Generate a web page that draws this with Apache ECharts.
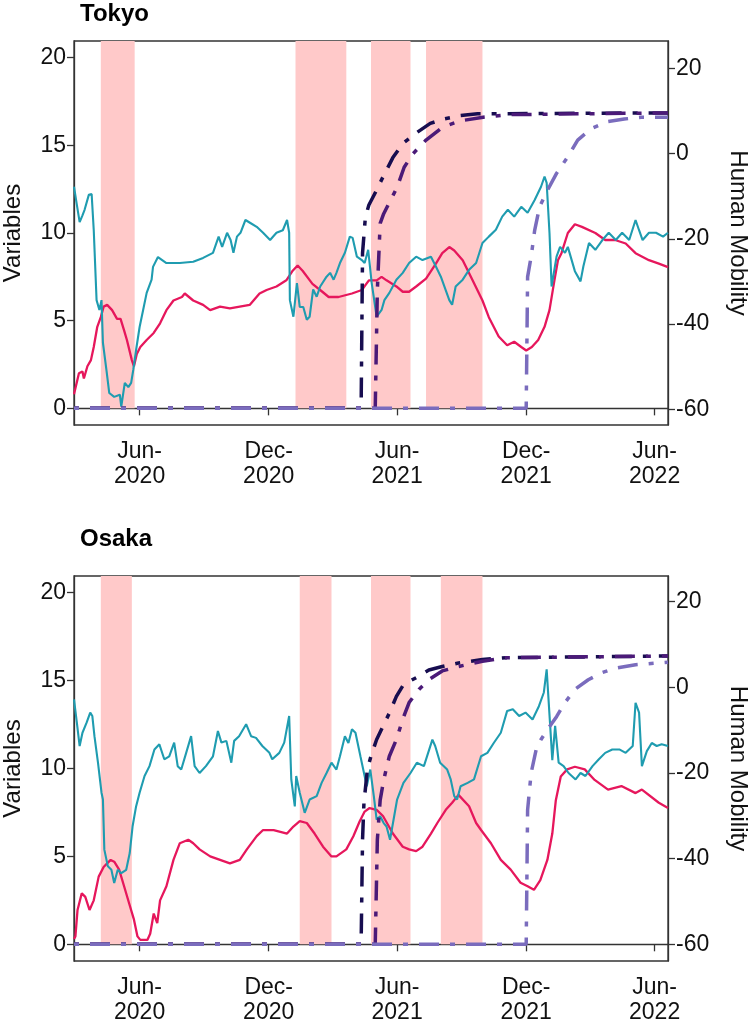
<!DOCTYPE html>
<html>
<head>
<meta charset="utf-8">
<script src="https://cdn.jsdelivr.net/npm/echarts@6/dist/echarts.min.js"></script>
<style>
  html, body { margin: 0; padding: 0; background: #fff; }
  #chart { width: 750px; height: 1021px; }
</style>
</head>
<body>
<div id="chart"></div>
<script>
// axis ticks
const xTicks = ['2020-06-01', '2020-12-01', '2021-06-01', '2021-12-01', '2022-06-01']
const leftTicks = [0, 5, 10, 15, 20]
const rightTicks = [-60, -40, -20, 0, 20]
const xStart = '2020-02-29'
const xEnd = '2022-06-20'

// states of emergency
const tokyoEmergency = [['2020-04-07', '2020-05-25'], ['2021-01-08', '2021-03-21'], ['2021-04-25', '2021-06-20'], ['2021-07-12', '2021-09-30']]
const osakaEmergency = [['2020-04-07', '2020-05-21'], ['2021-01-14', '2021-02-28'], ['2021-04-25', '2021-06-20'], ['2021-08-02', '2021-09-30']]

// Tokyo
const tokyoMobility = [
  ['2020-02-29', -7.8], ['2020-03-04', -12], ['2020-03-08', -16.1], ['2020-03-12', -14.5], ['2020-03-15', -13.2],
  ['2020-03-21', -9.7], ['2020-03-25', -9.5], ['2020-03-28', -18], ['2020-04-01', -34.4], ['2020-04-05', -36.7],
  ['2020-04-08', -34.4], ['2020-04-10', -44.4], ['2020-04-15', -50.8], ['2020-04-19', -56.2], ['2020-04-26', -57.1],
  ['2020-05-04', -56.6], ['2020-05-06', -59.4], ['2020-05-11', -53.8], ['2020-05-16', -54.8], ['2020-05-20', -53.8],
  ['2020-05-23', -50.8], ['2020-05-27', -46.1], ['2020-06-01', -40.7], ['2020-06-06', -36.7], ['2020-06-11', -32.7],
  ['2020-06-18', -29.6], ['2020-06-20', -26.6], ['2020-06-27', -24.3], ['2020-07-09', -25.7], ['2020-07-28', -25.7],
  ['2020-08-16', -25.4], ['2020-08-30', -24.5], ['2020-09-13', -23.3], ['2020-09-21', -19.5], ['2020-09-26', -21.9],
  ['2020-10-03', -18.6], ['2020-10-08', -20.3], ['2020-10-12', -23.3], ['2020-10-17', -19.5], ['2020-10-22', -18.6],
  ['2020-10-29', -15.6], ['2020-11-05', -16.3], ['2020-11-14', -17.2], ['2020-11-23', -18.6], ['2020-12-03', -20.3],
  ['2020-12-12', -18.6], ['2020-12-21', -18], ['2020-12-27', -15.6], ['2020-12-30', -18.6], ['2020-12-31', -34.4],
  ['2021-01-05', -38.3], ['2021-01-10', -30.4], ['2021-01-14', -36], ['2021-01-19', -36], ['2021-01-24', -39],
  ['2021-01-28', -38.3], ['2021-02-02', -31.9], ['2021-02-07', -33.6], ['2021-02-12', -31.2], ['2021-02-21', -28.9],
  ['2021-02-26', -28], ['2021-03-03', -29.6], ['2021-03-07', -28], ['2021-03-12', -25.7], ['2021-03-19', -23.3],
  ['2021-03-26', -19.5], ['2021-03-30', -19.8], ['2021-04-05', -24.2], ['2021-04-12', -25], ['2021-04-16', -25.7],
  ['2021-04-21', -22.6], ['2021-04-26', -30.4], ['2021-05-03', -38.3], ['2021-05-10', -36.7], ['2021-05-14', -34.4],
  ['2021-05-21', -32.7], ['2021-05-31', -29.6], ['2021-06-09', -28], ['2021-06-18', -25.7], ['2021-06-28', -24.2],
  ['2021-07-07', -25], ['2021-07-19', -24.2], ['2021-07-26', -26.5], ['2021-08-02', -28.9], ['2021-08-14', -34.4],
  ['2021-08-18', -35.5], ['2021-08-23', -31.2], ['2021-09-02', -29.6], ['2021-09-11', -27.3], ['2021-09-21', -25.7],
  ['2021-09-30', -21], ['2021-10-09', -19.5], ['2021-10-19', -17.9], ['2021-10-28', -14.8], ['2021-11-05', -13.2],
  ['2021-11-14', -14.8], ['2021-11-24', -12.5], ['2021-12-03', -13.9], ['2021-12-13', -10.9], ['2021-12-22', -7.8],
  ['2021-12-27', -5.4], ['2021-12-30', -6.9], ['2022-01-03', -18.6], ['2022-01-06', -31.2], ['2022-01-13', -24.2],
  ['2022-01-18', -21.9], ['2022-01-25', -23.3], ['2022-01-29', -21.9], ['2022-02-08', -27.6], ['2022-02-16', -30],
  ['2022-02-20', -26.5], ['2022-02-28', -21], ['2022-03-09', -22.6], ['2022-03-19', -20.3], ['2022-03-28', -18.6],
  ['2022-04-07', -20.3], ['2022-04-16', -18.6], ['2022-04-26', -20.3], ['2022-05-05', -15.6], ['2022-05-10', -18],
  ['2022-05-15', -20.3], ['2022-05-24', -18.6], ['2022-06-03', -18.6], ['2022-06-13', -19.5], ['2022-06-20', -18.6]
]
const tokyoCases = [
  ['2020-02-29', 0.8], ['2020-03-02', 0.85], ['2020-03-07', 2.0], ['2020-03-12', 2.1], ['2020-03-14', 1.7],
  ['2020-03-19', 2.4], ['2020-03-24', 2.75], ['2020-03-28', 3.5], ['2020-04-02', 4.65], ['2020-04-07', 5.2],
  ['2020-04-11', 5.8], ['2020-04-16', 5.9], ['2020-04-23', 5.6], ['2020-04-30', 5.1], ['2020-05-05', 5.1],
  ['2020-05-10', 4.45], ['2020-05-14', 3.9], ['2020-05-21', 2.75], ['2020-05-24', 2.4], ['2020-05-28', 3.1],
  ['2020-06-02', 3.5], ['2020-06-11', 3.9], ['2020-06-21', 4.3], ['2020-06-30', 4.85], ['2020-07-09', 5.6],
  ['2020-07-19', 6.15], ['2020-07-31', 6.35], ['2020-08-04', 6.55], ['2020-08-16', 6.15], ['2020-08-30', 5.9],
  ['2020-09-09', 5.6], ['2020-09-23', 5.8], ['2020-10-07', 5.7], ['2020-10-21', 5.8], ['2020-11-04', 5.9],
  ['2020-11-18', 6.55], ['2020-11-28', 6.75], ['2020-12-12', 6.95], ['2020-12-26', 7.3], ['2021-01-04', 7.85],
  ['2021-01-11', 8.15], ['2021-01-18', 7.85], ['2021-02-01', 7.1], ['2021-02-15', 6.65], ['2021-02-24', 6.35],
  ['2021-03-10', 6.35], ['2021-03-29', 6.55], ['2021-04-12', 6.75], ['2021-04-22', 7.3], ['2021-05-03', 7.3],
  ['2021-05-10', 7.5], ['2021-05-17', 7.3], ['2021-05-31', 6.95], ['2021-06-09', 6.65], ['2021-06-18', 6.65],
  ['2021-06-28', 6.95], ['2021-07-12', 7.4], ['2021-07-26', 8.25], ['2021-08-04', 8.85], ['2021-08-14', 9.2],
  ['2021-08-21', 9.0], ['2021-09-02', 8.45], ['2021-09-16', 7.3], ['2021-09-30', 6.15], ['2021-10-09', 5.2],
  ['2021-10-23', 4.1], ['2021-11-04', 3.6], ['2021-11-14', 3.8], ['2021-11-24', 3.5], ['2021-12-01', 3.3],
  ['2021-12-09', 3.5], ['2021-12-18', 3.9], ['2021-12-27', 4.65], ['2022-01-03', 5.6], ['2022-01-10', 7.3],
  ['2022-01-15', 8.45], ['2022-01-20', 8.85], ['2022-01-29', 10.0], ['2022-02-08', 10.5], ['2022-02-18', 10.35],
  ['2022-03-09', 10.0], ['2022-03-23', 9.6], ['2022-04-06', 9.6], ['2022-04-21', 9.4], ['2022-05-05', 8.85],
  ['2022-05-24', 8.45], ['2022-06-07', 8.25], ['2022-06-20', 8.05]
]
const tokyoDose1 = [
  ['2020-02-29', 0], ['2021-04-11', 0], ['2021-04-13', 8.85], ['2021-04-17', 10.9], ['2021-04-22', 11.6],
  ['2021-05-03', 12.45], ['2021-05-12', 13.2], ['2021-05-26', 14.3], ['2021-06-09', 15.1], ['2021-06-28', 15.7],
  ['2021-07-18', 16.25], ['2021-08-06', 16.5], ['2021-08-30', 16.7], ['2021-09-23', 16.8], ['2022-06-20', 16.85]
]
const tokyoDose2 = [
  ['2020-02-29', 0], ['2021-05-01', 0], ['2021-05-04', 6.75], ['2021-05-08', 10.55], ['2021-05-13', 11.1],
  ['2021-05-25', 12.05], ['2021-06-01', 12.6], ['2021-06-11', 13.75], ['2021-06-23', 14.5], ['2021-07-12', 15.3],
  ['2021-08-05', 16.05], ['2021-08-30', 16.4], ['2021-10-01', 16.6], ['2021-11-05', 16.75], ['2022-06-20', 16.85]
]
const tokyoDose3 = [
  ['2020-02-29', 0], ['2021-12-01', 0], ['2021-12-03', 7.5], ['2021-12-08', 8.65], ['2021-12-13', 10.15],
  ['2021-12-20', 11.5], ['2021-12-30', 12.35], ['2022-01-13', 13.4], ['2022-01-29', 14.35], ['2022-02-12', 15.3],
  ['2022-03-03', 15.95], ['2022-03-26', 16.35], ['2022-04-19', 16.5], ['2022-05-13', 16.6], ['2022-06-20', 16.6]
]

// Osaka
const osakaMobility = [
  ['2020-02-29', -2.8], ['2020-03-04', -8.2], ['2020-03-08', -13.7], ['2020-03-12', -10.6], ['2020-03-18', -8.2],
  ['2020-03-23', -5.9], ['2020-03-26', -6.7], ['2020-03-29', -11.4], ['2020-04-03', -17.6], ['2020-04-08', -24.6],
  ['2020-04-10', -26.2], ['2020-04-12', -37.9], ['2020-04-17', -41.8], ['2020-04-22', -42.6], ['2020-04-26', -45.7],
  ['2020-05-01', -42.6], ['2020-05-06', -43.4], ['2020-05-13', -42.6], ['2020-05-18', -38.7], ['2020-05-22', -32.5],
  ['2020-05-27', -27.8], ['2020-06-01', -24.6], ['2020-06-08', -20.7], ['2020-06-15', -18.4], ['2020-06-22', -14.5],
  ['2020-06-29', -13.3], ['2020-07-06', -16.8], ['2020-07-13', -16.1], ['2020-07-20', -12.9], ['2020-07-25', -18.4],
  ['2020-07-30', -19.2], ['2020-08-06', -15.3], ['2020-08-13', -11.4], ['2020-08-18', -18.4], ['2020-08-25', -20.0],
  ['2020-09-03', -18.4], ['2020-09-13', -16.1], ['2020-09-20', -10.2], ['2020-09-25', -12.9], ['2020-10-02', -12.5],
  ['2020-10-09', -17.6], ['2020-10-13', -12.5], ['2020-10-20', -11.4], ['2020-10-30', -8.6], ['2020-11-06', -11.4],
  ['2020-11-13', -11.8], ['2020-11-22', -13.7], ['2020-12-02', -15.3], ['2020-12-06', -16.8], ['2020-12-16', -15.3],
  ['2020-12-23', -12.9], ['2020-12-30', -6.7], ['2021-01-02', -21.5], ['2021-01-07', -27.8], ['2021-01-09', -20.7],
  ['2021-01-14', -24.6], ['2021-01-21', -29.3], ['2021-01-28', -26.2], ['2021-02-07', -25.4], ['2021-02-14', -22.3],
  ['2021-02-21', -20.0], ['2021-02-28', -17.6], ['2021-03-07', -19.2], ['2021-03-12', -16.1], ['2021-03-19', -11.4],
  ['2021-03-24', -13.0], ['2021-03-29', -9.8], ['2021-04-03', -10.6], ['2021-04-10', -16.1], ['2021-04-17', -21.5],
  ['2021-04-19', -23.1], ['2021-04-24', -19.2], ['2021-04-29', -25.4], ['2021-05-03', -30.9], ['2021-05-08', -30.1],
  ['2021-05-13', -31.7], ['2021-05-17', -32.5], ['2021-05-22', -35.6], ['2021-06-01', -26.2], ['2021-06-10', -22.3],
  ['2021-06-20', -20.0], ['2021-06-29', -17.6], ['2021-07-09', -18.4], ['2021-07-21', -12.2], ['2021-07-25', -13.7],
  ['2021-08-01', -17.6], ['2021-08-11', -19.2], ['2021-08-16', -21.5], ['2021-08-21', -25.4], ['2021-08-25', -26.2],
  ['2021-08-30', -23.1], ['2021-09-09', -22.3], ['2021-09-18', -21.5], ['2021-09-28', -16.1], ['2021-10-07', -15.3],
  ['2021-10-16', -13.0], ['2021-10-26', -10.6], ['2021-11-04', -5.5], ['2021-11-12', -5.1], ['2021-11-21', -6.7],
  ['2021-11-30', -5.9], ['2021-12-10', -7.5], ['2021-12-19', -4.4], ['2021-12-26', -1.2], ['2021-12-30', 4.2],
  ['2022-01-04', -9.0], ['2022-01-07', -17.0], ['2022-01-11', -9.0], ['2022-01-16', -17.6], ['2022-01-23', -18.4],
  ['2022-01-30', -20.0], ['2022-02-09', -21.5], ['2022-02-16', -20.0], ['2022-02-23', -20.7], ['2022-03-05', -18.4],
  ['2022-03-14', -16.8], ['2022-03-23', -15.3], ['2022-04-02', -14.5], ['2022-04-12', -14.5], ['2022-04-21', -15.3],
  ['2022-05-01', -13.7], ['2022-05-05', -3.6], ['2022-05-10', -5.9], ['2022-05-14', -18.4], ['2022-05-21', -14.9],
  ['2022-05-28', -13.0], ['2022-06-04', -13.7], ['2022-06-11', -13.3], ['2022-06-20', -13.7]
]
const osakaCases = [
  ['2020-02-29', 0.3], ['2020-03-02', 0.45], ['2020-03-05', 1.95], ['2020-03-11', 2.9], ['2020-03-16', 2.7],
  ['2020-03-22', 1.95], ['2020-03-28', 2.5], ['2020-04-04', 3.85], ['2020-04-11', 4.4], ['2020-04-16', 4.6],
  ['2020-04-21', 4.8], ['2020-04-26', 4.7], ['2020-05-03', 4.25], ['2020-05-10', 3.3], ['2020-05-17', 2.35],
  ['2020-05-24', 1.4], ['2020-05-29', 0.45], ['2020-06-02', 0.25], ['2020-06-12', 0.25], ['2020-06-16', 0.6],
  ['2020-06-21', 1.75], ['2020-06-26', 1.2], ['2020-06-30', 2.5], ['2020-07-09', 3.3], ['2020-07-19', 4.8],
  ['2020-07-28', 5.75], ['2020-08-09', 5.95], ['2020-08-16', 5.75], ['2020-08-25', 5.4], ['2020-09-09', 5.0],
  ['2020-09-23', 4.8], ['2020-10-07', 4.6], ['2020-10-21', 4.8], ['2020-10-31', 5.4], ['2020-11-14', 6.15],
  ['2020-11-23', 6.5], ['2020-12-08', 6.5], ['2020-12-27', 6.3], ['2021-01-05', 6.7], ['2021-01-14', 7.0],
  ['2021-01-24', 6.9], ['2021-02-04', 6.3], ['2021-02-16', 5.55], ['2021-02-28', 5.0], ['2021-03-07', 5.0],
  ['2021-03-21', 5.4], ['2021-03-31', 6.15], ['2021-04-09', 7.0], ['2021-04-16', 7.55], ['2021-04-23', 7.75],
  ['2021-05-03', 7.65], ['2021-05-12', 7.3], ['2021-05-26', 6.3], ['2021-06-09', 5.55], ['2021-06-18', 5.4],
  ['2021-06-28', 5.3], ['2021-07-07', 5.55], ['2021-07-19', 6.3], ['2021-07-28', 6.9], ['2021-08-09', 7.65],
  ['2021-08-18', 8.05], ['2021-08-27', 8.5], ['2021-09-11', 7.85], ['2021-09-21', 6.9], ['2021-09-28', 6.5],
  ['2021-10-12', 5.75], ['2021-10-26', 4.8], ['2021-11-09', 4.25], ['2021-11-23', 3.5], ['2021-12-03', 3.3],
  ['2021-12-12', 3.1], ['2021-12-21', 3.65], ['2021-12-31', 4.8], ['2022-01-07', 6.3], ['2022-01-12', 8.2],
  ['2022-01-19', 9.55], ['2022-01-28', 9.95], ['2022-02-08', 10.1], ['2022-02-22', 9.95], ['2022-03-08', 9.35],
  ['2022-03-27', 8.8], ['2022-04-15', 9.0], ['2022-05-05', 8.6], ['2022-05-14', 8.8], ['2022-06-07', 8.05],
  ['2022-06-20', 7.75]
]
const osakaDose1 = [
  ['2020-02-29', 0], ['2021-04-11', 0], ['2021-04-13', 5.95], ['2021-04-15', 8.05], ['2021-04-20', 10.0],
  ['2021-04-25', 10.7], ['2021-05-03', 11.65], ['2021-05-12', 12.4], ['2021-05-21', 13.15], ['2021-05-31', 14.1],
  ['2021-06-09', 14.7], ['2021-06-18', 14.95], ['2021-07-02', 15.25], ['2021-07-16', 15.6], ['2021-08-04', 15.8],
  ['2021-08-27', 16.0], ['2021-09-30', 16.2], ['2021-11-02', 16.3], ['2022-06-20', 16.4]
]
const osakaDose2 = [
  ['2020-02-29', 0], ['2021-05-01', 0], ['2021-05-04', 5.95], ['2021-05-08', 8.2], ['2021-05-13', 9.35],
  ['2021-05-21', 10.7], ['2021-05-31', 11.65], ['2021-06-09', 12.8], ['2021-06-18', 13.75], ['2021-07-02', 14.5],
  ['2021-07-16', 15.05], ['2021-08-04', 15.55], ['2021-08-27', 15.8], ['2021-09-30', 16.1], ['2021-11-02', 16.3],
  ['2022-06-20', 16.4]
]
const osakaDose3 = [
  ['2020-02-29', 0], ['2021-12-01', 0], ['2021-12-03', 7.65], ['2021-12-08', 9.75], ['2021-12-15', 11.05],
  ['2021-12-22', 11.65], ['2021-12-31', 12.2], ['2022-01-13', 12.95], ['2022-01-25', 13.75], ['2022-02-08', 14.5],
  ['2022-02-27', 15.05], ['2022-03-18', 15.45], ['2022-04-06', 15.7], ['2022-05-05', 15.9], ['2022-06-20', 16.05]
]

const monthNames = ['Jan', 'Feb', 'Mar', 'Apr', 'May', 'Jun', 'Jul', 'Aug', 'Sep', 'Oct', 'Nov', 'Dec']
const font = "'Liberation Sans', Arial, sans-serif"
const axisColor = '#333'
const dotdash = [5, 11, 20, 11]

// the x axis is a plain value axis over timestamps so that ticks can sit on exact dates
const ts = (d) => echarts.time.parse(d).getTime()
const toPoints = (rows) => rows.map(([d, v]) => [ts(d), v])

const chart = echarts.init(document.getElementById('chart'))
const xTickValues = xTicks.map(ts)

function xAxisFor(gridIndex) {
  return {
    type: 'value',
    gridIndex,
    min: ts(xStart),
    max: ts(xEnd),
    axisLine: { lineStyle: { color: axisColor, width: 1.3 } },
    axisTick: { customValues: xTickValues, length: 7, lineStyle: { color: axisColor, width: 1.3 } },
    axisLabel: {
      customValues: xTickValues,
      margin: 14,
      fontSize: 23,
      lineHeight: 25,
      color: '#111',
      fontFamily: font,
      formatter: (v) => {
        const d = new Date(v)
        return monthNames[d.getMonth()] + '-\n' + d.getFullYear()
      }
    },
    splitLine: { show: false }
  }
}

function yAxesFor(gridIndex, rightMin, rightMax) {
  const common = {
    type: 'value',
    gridIndex,
    axisLine: { show: true, lineStyle: { color: axisColor, width: 1.3 } },
    axisTick: { show: true, length: 7, lineStyle: { color: axisColor, width: 1.3 } },
    splitLine: { show: false },
    nameLocation: 'middle',
    nameTextStyle: { fontSize: 24, color: '#111', fontFamily: font }
  }
  return [
    {
      ...common,
      position: 'left',
      min: -0.95,
      max: 20.95,
      name: 'Variables',
      nameGap: 49,
      axisTick: { ...common.axisTick, customValues: leftTicks },
      axisLabel: { customValues: leftTicks, fontSize: 23, color: '#111', fontFamily: font, margin: 8 }
    },
    {
      ...common,
      position: 'right',
      min: rightMin,
      max: rightMax,
      name: 'Human Mobility',
      nameRotate: -90,
      nameGap: 58,
      axisTick: { ...common.axisTick, customValues: rightTicks },
      axisLabel: { customValues: rightTicks, fontSize: 23, color: '#111', fontFamily: font, margin: 8 }
    }
  ]
}

function seriesFor(panel, mobility, cases, dose1, dose2, dose3, emergency) {
  const xi = panel
  const yl = panel * 2
  const yr = panel * 2 + 1
  const plain = { type: 'line', xAxisIndex: xi, showSymbol: false, symbol: 'none', animation: false }
  return [
    {
      ...plain,
      name: 'cases',
      yAxisIndex: yl,
      data: toPoints(cases),
      lineStyle: { color: '#e6175c', width: 2.3 },
      markArea: {
        silent: true,
        itemStyle: { color: '#ffc9c9' },
        data: emergency.map(([a, b]) => [{ xAxis: ts(a), yAxis: 0 }, { xAxis: ts(b), yAxis: 20.95 }])
      }
    },
    { ...plain, name: 'mobility', yAxisIndex: yr, data: toPoints(mobility), lineStyle: { color: '#1f9cb0', width: 2.1 } },
    { ...plain, name: 'dose1', yAxisIndex: yl, data: toPoints(dose1), lineStyle: { color: '#170d50', width: 3.5, type: dotdash, cap: 'butt' } },
    { ...plain, name: 'dose2', yAxisIndex: yl, data: toPoints(dose2), lineStyle: { color: '#4b1a78', width: 3.5, type: dotdash, cap: 'butt' } },
    { ...plain, name: 'dose3', yAxisIndex: yl, data: toPoints(dose3), lineStyle: { color: '#7a6cbd', width: 3.5, type: dotdash, cap: 'butt' } }
  ]
}

chart.setOption({
  backgroundColor: '#fff',
  animation: false,
  title: [
    { text: 'Tokyo', left: 75, top: -3, textStyle: { fontSize: 24, fontWeight: 'bold', color: '#000', fontFamily: font } },
    { text: 'Osaka', left: 75, top: 522, textStyle: { fontSize: 24, fontWeight: 'bold', color: '#000', fontFamily: font } }
  ],
  grid: [
    { left: 74, top: 41, width: 594, height: 384, show: true, borderColor: axisColor, borderWidth: 1.3, containLabel: false, outerBoundsMode: 'none' },
    { left: 74, top: 576, width: 594, height: 385, show: true, borderColor: axisColor, borderWidth: 1.3, containLabel: false, outerBoundsMode: 'none' }
  ],
  xAxis: [xAxisFor(0), xAxisFor(1)],
  yAxis: [...yAxesFor(0, -63.7, 26.4), ...yAxesFor(1, -63.9, 26.0)],
  series: [
    ...seriesFor(0, tokyoMobility, tokyoCases, tokyoDose1, tokyoDose2, tokyoDose3, tokyoEmergency),
    ...seriesFor(1, osakaMobility, osakaCases, osakaDose1, osakaDose2, osakaDose3, osakaEmergency)
  ]
})
</script>
</body>
</html>
